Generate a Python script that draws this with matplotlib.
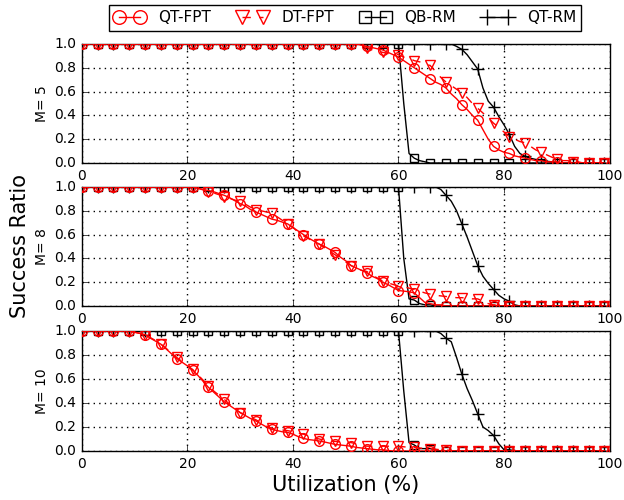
import numpy as np
import matplotlib
matplotlib.use("Agg")
import matplotlib.pyplot as plt

N = 100  # utilization points 0..99 %
x = np.arange(0, N)

panel_labels = ['M= 5', 'M= 8', 'M= 10']
series_names = ['QT-FPT', 'DT-FPT', 'QB-RM', 'QT-RM']


def pad(n_ones, body):
    # leading 1.0 values, read values, trailing 0.0 values
    vals = [1.0] * n_ones + body
    return vals + [0.0] * (N - len(vals))


# ---- M = 5 ----
qt_fpt_5 = pad(53, [0.99, 0.98, 0.97, 0.96, 0.95, 0.93, 0.91, 0.89, 0.86, 0.83,
                    0.80, 0.77, 0.74, 0.71, 0.68, 0.66, 0.63, 0.58, 0.54, 0.49,
                    0.45, 0.40, 0.36, 0.28, 0.20, 0.14, 0.11, 0.09, 0.08, 0.06,
                    0.05, 0.04, 0.03, 0.02, 0.02, 0.01, 0.01, 0.01])
dt_fpt_5 = pad(53, [0.99, 0.97, 0.95, 0.94, 0.93, 0.92, 0.92, 0.91, 0.89, 0.88,
                    0.86, 0.85, 0.83, 0.82, 0.77, 0.72, 0.68, 0.65, 0.62, 0.59,
                    0.55, 0.50, 0.46, 0.42, 0.38, 0.335, 0.30, 0.26, 0.22, 0.20,
                    0.18, 0.17, 0.14, 0.11, 0.09, 0.07, 0.05, 0.03, 0.02, 0.02,
                    0.01, 0.01])
qb_rm_5 = pad(61, [0.50, 0.08, 0.04, 0.02, 0.01])
qt_rm_5 = pad(71, [0.98, 0.955, 0.91, 0.85, 0.79, 0.63, 0.52, 0.47, 0.39, 0.32,
                   0.24, 0.14, 0.08, 0.055, 0.04, 0.03, 0.027, 0.015, 0.01])

# ---- M = 8 ----
qt_fpt_8 = pad(22, [0.99, 0.98, 0.97, 0.96, 0.945, 0.93, 0.91, 0.885, 0.86, 0.84,
                    0.81, 0.79, 0.77, 0.75, 0.73, 0.72, 0.705, 0.69, 0.66, 0.63,
                    0.60, 0.57, 0.545, 0.52, 0.50, 0.475, 0.45, 0.41, 0.38, 0.34,
                    0.32, 0.30, 0.28, 0.25, 0.23, 0.20, 0.18, 0.155, 0.13, 0.125,
                    0.12, 0.11, 0.07, 0.03, 0.02, 0.01, 0.01])
dt_fpt_8 = pad(22, [0.99, 0.975, 0.96, 0.95, 0.935, 0.92, 0.905, 0.89, 0.88, 0.855,
                    0.83, 0.81, 0.80, 0.79, 0.78, 0.75, 0.72, 0.69, 0.66, 0.62,
                    0.59, 0.565, 0.54, 0.52, 0.49, 0.46, 0.43, 0.40, 0.37, 0.34,
                    0.32, 0.30, 0.29, 0.26, 0.235, 0.21, 0.195, 0.18, 0.17, 0.16,
                    0.15, 0.14, 0.125, 0.11, 0.10, 0.09, 0.085, 0.08, 0.075, 0.07,
                    0.07, 0.065, 0.06, 0.06, 0.04, 0.02, 0.01, 0.01, 0.01])
qb_rm_8 = pad(61, [0.40, 0.06, 0.05, 0.02, 0.01, 0.01])
qt_rm_8 = pad(68, [0.98, 0.93, 0.88, 0.80, 0.69, 0.58, 0.46, 0.34, 0.25, 0.19,
                   0.14, 0.09, 0.06, 0.04, 0.01])

# ---- M = 10 ----
qt_fpt_10 = pad(10, [0.99, 0.98, 0.97, 0.94, 0.915, 0.89, 0.85, 0.81, 0.77, 0.74,
                     0.71, 0.675, 0.63, 0.58, 0.53, 0.49, 0.45, 0.41, 0.38, 0.35,
                     0.32, 0.295, 0.27, 0.25, 0.225, 0.20, 0.18, 0.17, 0.16, 0.155,
                     0.14, 0.12, 0.105, 0.095, 0.09, 0.083, 0.075, 0.065, 0.055, 0.05,
                     0.045, 0.04, 0.03, 0.025, 0.02, 0.015, 0.01, 0.01, 0.005])
dt_fpt_10 = pad(10, [0.99, 0.98, 0.97, 0.945, 0.92, 0.89, 0.855, 0.815, 0.78, 0.745,
                     0.71, 0.68, 0.635, 0.59, 0.54, 0.50, 0.465, 0.43, 0.39, 0.355,
                     0.32, 0.30, 0.28, 0.26, 0.235, 0.21, 0.19, 0.18, 0.175, 0.17,
                     0.16, 0.15, 0.14, 0.125, 0.11, 0.10, 0.09, 0.085, 0.08, 0.075,
                     0.07, 0.07, 0.06, 0.05, 0.04, 0.04, 0.04, 0.04, 0.04, 0.04,
                     0.04, 0.035, 0.03, 0.03, 0.025, 0.02, 0.02, 0.015, 0.01, 0.01])
qb_rm_10 = pad(61, [0.50, 0.07, 0.05, 0.02, 0.02, 0.02, 0.01])
qt_rm_10 = pad(68, [0.98, 0.94, 0.91, 0.78, 0.64, 0.52, 0.42, 0.31, 0.20, 0.17,
                    0.13, 0.06, 0.01, 0.01])

panels = [
    [qt_fpt_5, dt_fpt_5, qb_rm_5, qt_rm_5],
    [qt_fpt_8, dt_fpt_8, qb_rm_8, qt_rm_8],
    [qt_fpt_10, dt_fpt_10, qb_rm_10, qt_rm_10],
]

styles = [
    dict(color='red', linestyle='-', marker='o', markersize=7, zorder=4),
    dict(color='red', linestyle='--', marker='v', markersize=7, zorder=4),
    dict(color='black', linestyle='-', marker='s', markersize=6, zorder=3),
    dict(color='black', linestyle='-', marker='+', markersize=8, zorder=3),
]

plt.style.use('classic')
plt.rcParams['font.family'] = 'DejaVu Sans'
plt.rcParams['figure.facecolor'] = 'white'
plt.rcParams['savefig.facecolor'] = 'white'

fig = plt.figure(figsize=(6.24, 5.0), dpi=100)
ax_boxes = [(0.131, 0.674, 0.846, 0.238),
            (0.131, 0.388, 0.846, 0.238),
            (0.131, 0.098, 0.846, 0.240)]

handles = []
for k, (box, data) in enumerate(zip(ax_boxes, panels)):
    ax = fig.add_axes(box)
    for name, vals, st in zip(series_names, data, styles):
        h, = ax.plot(x, vals, lw=1.0, markevery=3,
                     markerfacecolor='none', markeredgecolor=st['color'],
                     markeredgewidth=1.0, label=name, **st)
        if k == 0:
            handles.append(h)
    ax.set_xlim(0, 100)
    ax.set_ylim(0, 1.0)
    ax.set_xticks([0, 20, 40, 60, 80, 100])
    ax.set_yticks([0.0, 0.2, 0.4, 0.6, 0.8, 1.0])
    ax.set_yticklabels(['0.0', '0.2', '0.4', '0.6', '0.8', '1.0'])
    ax.tick_params(labelsize=10, direction='in', length=4, top=True, right=True)
    ax.grid(True, color='black', linestyle=':', linewidth=1.0)
    ax.set_ylabel(panel_labels[k], fontsize=10, labelpad=4)

fig.text(0.032, 0.508, 'Success Ratio', rotation=90, fontsize=15,
         ha='center', va='center')
fig.text(0.554, 0.030, 'Utilization (%)', fontsize=15, ha='center', va='center')

leg = fig.legend(handles, series_names, loc='upper center', ncol=4,
                 bbox_to_anchor=(0.553, 0.99), borderaxespad=0.0,
                 fontsize=11, numpoints=2,
                 markerscale=1.4, frameon=True, fancybox=False, shadow=False,
                 handlelength=2.0, handletextpad=0.9, columnspacing=1.7,
                 borderpad=0.35)
leg.get_frame().set_edgecolor('black')
leg.get_frame().set_linewidth(1.0)

fig.savefig('out.png', dpi=100)
